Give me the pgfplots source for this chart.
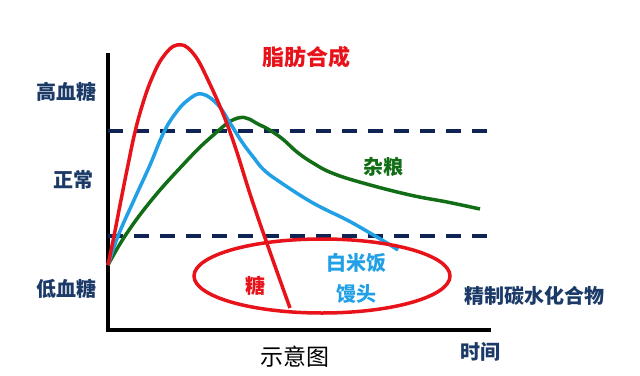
\documentclass[border=0pt]{standalone}
\usepackage{pgfplots}
\pgfplotsset{compat=1.18}
\usepackage{fontspec}
\newfontfamily\cjk{Noto Sans CJK SC}
\newcommand\lab{\cjk\bfseries\fontsize{20}{24}\selectfont}
\definecolor{navy}{HTML}{1C3A68}
\definecolor{dashnavy}{HTML}{0F2452}
\definecolor{cred}{HTML}{E8121A}
\definecolor{cblue}{HTML}{22A0E6}
\definecolor{cgreen}{HTML}{126E16}
\begin{document}
\begin{tikzpicture}
\begin{axis}[
  scale only axis, width=640pt, height=375pt,
  xmin=0, xmax=640, ymin=0, ymax=375, y dir=reverse,
  hide axis, clip=false
]
\path (rel axis cs:0,0) rectangle (rel axis cs:1,1);
% axes
\addplot[black, line width=4pt, line join=miter] coordinates {(108,53) (108,330) (491,330)};
% dashed reference lines
\addplot[dashnavy, line width=3.5pt, dash pattern=on 15pt off 11pt] coordinates {(108,131) (488,131)};
\addplot[dashnavy, line width=3.5pt, dash pattern=on 15pt off 11pt] coordinates {(108,236) (488,236)};
% green
\addplot[cgreen, line width=3.5pt, smooth, tension=0.7] coordinates {
(108,265) (125,236) (150,202) (180,168) (210,138) (238,118) (260,125) (280,137)
(297,152) (313,163) (332,173) (363,183) (410,195) (447,202) (480,209)};
% blue
\addplot[cblue, line width=3.5pt, smooth, tension=0.7] coordinates {
(108,265) (118,236) (134,200) (150,165) (163,134) (175,114) (188,100) (202,94)
(218,105) (230,123) (242,142) (254,158) (264,170) (280,182) (313,203) (347,220)
(370,233) (387,243) (398,250)};
% red
\addplot[cred, line width=3.5pt, smooth, tension=0.7] coordinates {
(108,265) (114,236) (121,200) (128,165) (135,132) (143,103) (152,78) (163,57) (177,45)
(192,52) (208,80) (230,132) (252,200) (270,252) (290,308)};
% ellipse
\draw[cred, line width=3.5pt] (axis cs:322,276) ellipse [x radius=128, y radius=37];
% labels
\node[navy, font=\lab] at (axis cs:66,92) {高血糖};
\node[navy, font=\lab] at (axis cs:73,180) {正常};
\node[navy, font=\lab] at (axis cs:66,289) {低血糖};
\node[cred, font=\cjk\bfseries\fontsize{22}{26}\selectfont] at (axis cs:306,57) {脂肪合成};
\node[cgreen, font=\lab] at (axis cs:383,167) {杂粮};
\node[cblue, font=\lab] at (axis cs:356,263) {白米饭};
\node[cblue, font=\lab] at (axis cs:356,294) {馒头};
\node[cred, font=\lab] at (axis cs:255,286) {糖};
\node[navy, font=\lab] at (axis cs:534,296) {精制碳水化合物};
\node[black, font=\cjk\fontsize{23}{26}\selectfont] at (axis cs:295,357) {示意图};
\node[navy, font=\lab] at (axis cs:480,352) {时间};
\end{axis}
\end{tikzpicture}
\end{document}
